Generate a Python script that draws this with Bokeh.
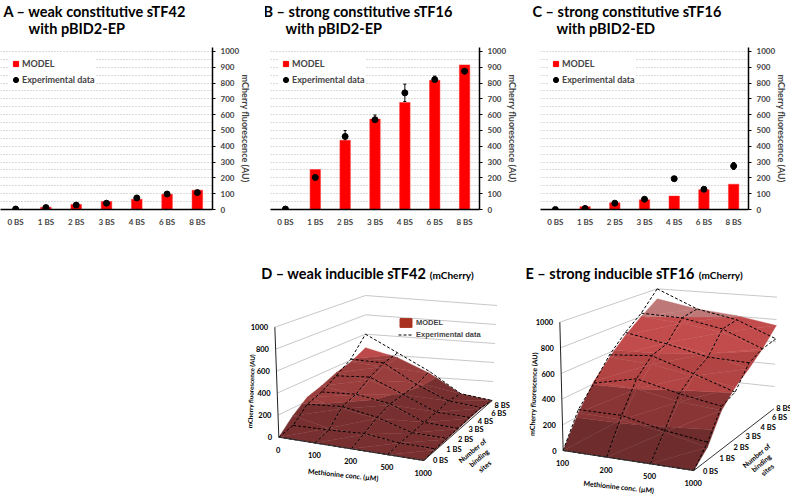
from bokeh.plotting import figure
from bokeh.embed import file_html
from bokeh.resources import INLINE
from bokeh.layouts import column, row
from bokeh.core.properties import value
from bokeh.models import (ColumnDataSource, FactorRange, FixedTicker, Legend, LegendItem,
                          Range1d, Spacer, TeeHead, Title, Whisker)

FONT = "Lato"
categories = ["0 BS", "1 BS", "2 BS", "3 BS", "4 BS", "6 BS", "8 BS"]

a_model = [0, 15, 32, 50, 65, 97, 122]
a_exp = [3, 12, 28, 40, 73, 98, 107]
a_err = [0, 4, 5, 5, 6, 6, 6]
b_model = [0, 253, 438, 572, 677, 817, 915]
b_exp = [3, 203, 462, 568, 738, 822, 875]
b_err = [0, 6, 38, 30, 55, 22, 8]
c_model = [0, 18, 42, 62, 85, 125, 160]
c_exp = [0, 7, 40, 65, 195, 128, 275]
c_err = [0, 3, 5, 12, 12, 10, 22]

met_d = ["0", "100", "200", "500", "1000"]
met_e = ["100", "200", "500", "1000"]
z_ticks = [0, 200, 400, 600, 800, 1000]

# rows: binding sites, columns: methionine
d_model = [[0, 0, 0, 0, 0], [130, 60, 50, 20, 5], [235, 170, 120, 30, 10], [280, 230, 170, 40, 15],
           [340, 300, 190, 50, 20], [380, 360, 230, 70, 20], [460, 380, 240, 50, 0]]
d_exp = [[0, 0, 0, 0, 0], [40, 45, 60, 20, 15], [170, 190, 130, 30, 20], [220, 235, 180, 40, 20],
         [310, 330, 190, 50, 30], [410, 400, 210, 70, 30], [600, 430, 260, 50, 0]]
e_model = [[0, 0, 0, 0], [230, 220, 170, 100], [420, 400, 340, 312], [560, 540, 480, 428],
           [690, 660, 600, 510], [800, 770, 720, 610], [906, 840, 806, 746]]
e_exp = [[0, 0, 0, 0], [255, 255, 183, 139], [405, 483, 404, 347], [580, 612, 500, 388],
         [715, 650, 573, 560], [830, 818, 751, 610], [1000, 840, 769, 627]]

band_edges = [0, 200, 400, 600, 800, 1000]
band_colors_d = ["#782f2f", "#9a3d3d", "#bd4a4a", "#c24b4b", "#c96a6a"]
band_colors_e = ["#6e2c2c", "#8a3535", "#b34444", "#c24c4c", "#bf7878"]


def bar_panel(title1, title1_x, title2, title2_x, model, exp, err, width, left, right, leg_x):
    p = figure(width=width, height=260, x_range=FactorRange(factors=categories, range_padding=0),
               y_range=Range1d(0, 1025), y_axis_location="right", output_backend="svg", title=None,
               toolbar_location=None, min_border_left=left, min_border_right=right,
               min_border_top=46, min_border_bottom=51, outline_line_color=None)
    src = ColumnDataSource(dict(x=categories, model=model, exp=exp,
                                lo=[e - d for e, d in zip(exp, err)],
                                hi=[e + d for e, d in zip(exp, err)]))
    p.vbar(x="x", top="model", width=0.35, source=src, fill_color="#ff0000", line_color="#ff3030", line_width=0.5)
    p.add_layout(Whisker(base="x", lower="lo", upper="hi", source=src, line_color="black", line_width=1,
                         lower_head=TeeHead(size=3, line_color="black"),
                         upper_head=TeeHead(size=3, line_color="black")))
    dots = p.scatter(x="x", y="exp", source=src, size=6, marker="circle", fill_color="black", line_color="black")
    key = p.scatter(x="x", y="model", source=src, size=0, marker="square", fill_color="#ff0000", line_color="#ff0000")
    p.xgrid.visible = False
    p.ygrid.ticker = FixedTicker(ticks=list(range(50, 1001, 50)))
    p.ygrid.grid_line_color = "#b4b4b4"
    p.ygrid.grid_line_dash = "1 2"
    xa, ya = p.xaxis[0], p.yaxis[0]
    xa.axis_line_color = "black"
    xa.axis_line_width = 1.5
    xa.major_tick_line_color = None
    xa.minor_tick_line_color = None
    xa.major_label_text_font = FONT
    xa.major_label_text_font_style = "bold"
    xa.major_label_text_font_size = "8px"
    xa.major_label_standoff = 1
    ya.ticker = FixedTicker(ticks=list(range(0, 1001, 100)))
    ya.axis_line_color = "black"
    ya.axis_line_width = 1.5
    ya.major_tick_line_color = "black"
    ya.major_tick_in = 0
    ya.major_tick_out = 3
    ya.minor_tick_line_color = None
    ya.major_label_text_font = FONT
    ya.major_label_text_font_style = "bold"
    ya.major_label_text_font_size = "8px"
    ya.major_label_standoff = 5
    ya.axis_label = "mCherry fluorescence (AU)"
    ya.axis_label_text_font = FONT
    ya.axis_label_text_font_style = "bold"
    ya.axis_label_text_font_size = "9px"
    ya.axis_label_standoff = -2
    leg = Legend(items=[LegendItem(label="MODEL", renderers=[key]),
                        LegendItem(label="Experimental data", renderers=[dots])],
                 location=(leg_x, 123), orientation="vertical", background_fill_color="white",
                 background_fill_alpha=1, border_line_color=None, glyph_width=13, glyph_height=13,
                 label_height=13, label_standoff=-2, spacing=3, padding=2, margin=0,
                 label_text_font=FONT, label_text_font_style="bold", label_text_font_size="9px")
    p.add_layout(leg)
    p.add_layout(Title(text=" ", standoff=5, text_font_size="6px"), "above")
    for txt, x, st in ((title2, title2_x, -4), (title1, title1_x, 0)):
        p.add_layout(Title(text=txt, align="left", offset=x, standoff=st, text_font=FONT,
                           text_font_style="bold", text_font_size="14.5px", text_color="black"), "above")
    return p


def project(corners, tilts, u, t, z):
    fl, fr, bl, br = corners
    tfl, tfr, tbl, tbr = tilts
    bil = lambda a, b, c, d, i: (1 - u) * (1 - t) * a[i] + u * (1 - t) * b[i] + (1 - u) * t * c[i] + u * t * d[i]
    return (bil(fl, fr, bl, br, 0) + bil(tfl, tfr, tbl, tbr, 0) * z / 1000,
            bil(fl, fr, bl, br, 1) + bil(tfl, tfr, tbl, tbr, 1) * z / 1000)


def clip_band(poly, lo, hi):
    def cut(points, inside, level):
        out = []
        for i, a in enumerate(points):
            b = points[(i + 1) % len(points)]
            ia, ib = inside(a[2]), inside(b[2])
            if ia:
                out.append(a)
            if ia != ib:
                f = (level - a[2]) / (b[2] - a[2])
                out.append(tuple(a[k] + f * (b[k] - a[k]) for k in range(3)))
        return out
    res = cut(poly, lambda z: z >= lo, lo)
    return cut(res, lambda z: z <= hi, hi) if res else []


def surface_panel(title, title_x, sub_x, met, model, exp, corners, tilts, colors, zlab, zsize, metlab, nb, leg,
                  bs_dx, bs_dy):
    p = figure(width=280, height=235, x_range=Range1d(0, 840), y_range=Range1d(705, 0),
               x_axis_type=None, y_axis_type=None, output_backend="svg", toolbar_location=None,
               min_border=0, outline_line_color=None)
    p.grid.visible = False
    nu, nt = len(met), len(categories)
    us = [i / (nu - 1) for i in range(nu)]
    ts = [i / (nt - 1) for i in range(nt)]
    P = lambda u, t, z: project(corners, tilts, u, t, z)
    # walls
    wx, wy = [], []
    for z in z_ticks[1:]:
        pts = [P(0, 0, z), P(0, 1, z), P(1, 1, z)]
        wx.append([q[0] for q in pts])
        wy.append([q[1] for q in pts])
    p.multi_line(wx, wy, line_color="#c8c8c8", line_width=1)
    # surface
    for j in range(nt - 2, -1, -1):
        for i in range(nu - 1):
            a = (us[i], ts[j], model[j][i])
            b = (us[i + 1], ts[j], model[j][i + 1])
            c = (us[i + 1], ts[j + 1], model[j + 1][i + 1])
            d = (us[i], ts[j + 1], model[j + 1][i])
            for tri in ((a, b, c), (a, c, d)):
                xs, ys, cols = [], [], []
                for k, col in enumerate(colors):
                    poly = clip_band(list(tri), band_edges[k], band_edges[k + 1])
                    if len(poly) >= 3:
                        pr = [P(*q) for q in poly]
                        xs.append([q[0] for q in pr])
                        ys.append([q[1] for q in pr])
                        cols.append(col)
                if xs:
                    p.patches(xs, ys, fill_color=cols, line_color=cols, line_width=0.4)
    # dashed experimental grid
    ex, ey = [], []
    for j in range(nt):
        pts = [P(us[i], ts[j], exp[j][i]) for i in range(nu)]
        ex.append([q[0] for q in pts])
        ey.append([q[1] for q in pts])
    for i in range(nu):
        pts = [P(us[i], ts[j], exp[j][i]) for j in range(nt)]
        ex.append([q[0] for q in pts])
        ey.append([q[1] for q in pts])
    dash = p.multi_line(ex, ey, line_color="black", line_width=1, line_dash="3 2")
    # axes
    za = [P(0, 0, 0), P(0, 0, 1000)]
    p.line([q[0] for q in za], [q[1] for q in za], line_color="#222222", line_width=1)
    fa = [P(0, 0, 0), P(1, 0, 0), P(1, 1, 0)]
    p.line([q[0] for q in fa], [q[1] for q in fa], line_color="#333333", line_width=1)

    def txt(x, y, s, size="7px", align="center", angle=0, font=FONT):
        p.text([x], [y], text=[s], text_font=value(font), text_font_style="bold", text_font_size=size,
               text_align=align, text_baseline="middle", angle=angle, angle_units="deg", text_color="black")

    for z in z_ticks:
        q = P(0, 0, z)
        txt(q[0] - 20, q[1], str(z), size="7.5px", align="right")
    for i, m in enumerate(met):
        q = P(us[i], 0, 0)
        txt(q[0] - 2, q[1] + 37, m, size="7.5px")
    for j, c in enumerate(categories):
        q = P(1, ts[j], 0)
        txt(q[0] + bs_dx[j], q[1] + bs_dy[j], c, size="7.5px")
    txt(zlab[0], zlab[1], "mCherry fluorescence  (AU)", size=zsize, angle=88)
    txt(metlab[0], metlab[1], "Methionine conc. (\u00b5M)", size="7px", angle=-6)
    for (x, y), s in zip(nb, ["Number of", "binding", "sites"]):
        txt(x, y, s, size="7px", angle=40)
    txt(title_x, 38, title, size="14.5px", align="left")
    txt(sub_x, 42, "(mCherry)", size="10px", align="left")
    if leg is not None:
        key = p.quad(left=[float("nan")], right=[float("nan")], top=[float("nan")], bottom=[float("nan")],
                     fill_color="#a8321f", line_color="#a8321f")
        lg = Legend(items=[LegendItem(label="MODEL", renderers=[key]),
                           LegendItem(label="Experimental data", renderers=[dash])],
                    location=leg, orientation="vertical", background_fill_alpha=0, border_line_color=None,
                    glyph_width=15, glyph_height=11, label_height=9, label_standoff=3, spacing=1, padding=0,
                    margin=0, label_text_font="Liberation Sans", label_text_font_style="bold",
                    label_text_font_size="7.5px")
        p.add_layout(lg)
    return p


pa = bar_panel("A \u2013 weak constitutive sTF42", 3, "with pBID2-EP", 28, a_model, a_exp, a_err, 265, 0, 53, 9)
pb = bar_panel("B \u2013 strong constitutive sTF16", -7, "with pBID2-EP", 15, b_model, b_exp, b_err, 265, 5, 51, 9)
pc = bar_panel("C \u2013 strong constitutive sTF16", -8, "with pBID2-ED", 16, c_model, c_exp, c_err, 260, 10, 41, 9)

pd = surface_panel("D \u2013 weak inducible sTF42", 92, 598, met_d, d_model, d_exp,
                   [(145, 530), (580, 600), (405, 395), (785, 420)],
                   [(-12, -330), (12, -345), (0, -290), (15, -285)], band_colors_d,
                   (62, 390), "6.2px", (338, 642), [(725, 570), (745, 592), (762, 617)], (168, 155),
                   [50, 56, 57, 54, 48, 54, 30], [0, -2, -2, -2, 2, 8, 15])
pe = surface_panel("E \u2013 strong inducible sTF16", 45, 565, met_e, e_model, e_exp,
                   [(158, 570), (550, 630), (445, 405), (790, 445)],
                   [(-10, -385), (10, -400), (-5, -320), (10, -335)], band_colors_e,
                   (68, 398), "7px", (325, 678), [(737, 585), (752, 607), (770, 627)], None,
                   [50, 60, 62, 58, 63, 57, 30], [2, -4, -6, -9, -5, -4, 0])

top = row(pa, pb, pc, spacing=0)
bottom = row(Spacer(width=230, height=235), pd, pe, spacing=0)
layout = column(top, bottom, spacing=0, margin=0)
open("out.html", "w").write(file_html(layout, INLINE))
